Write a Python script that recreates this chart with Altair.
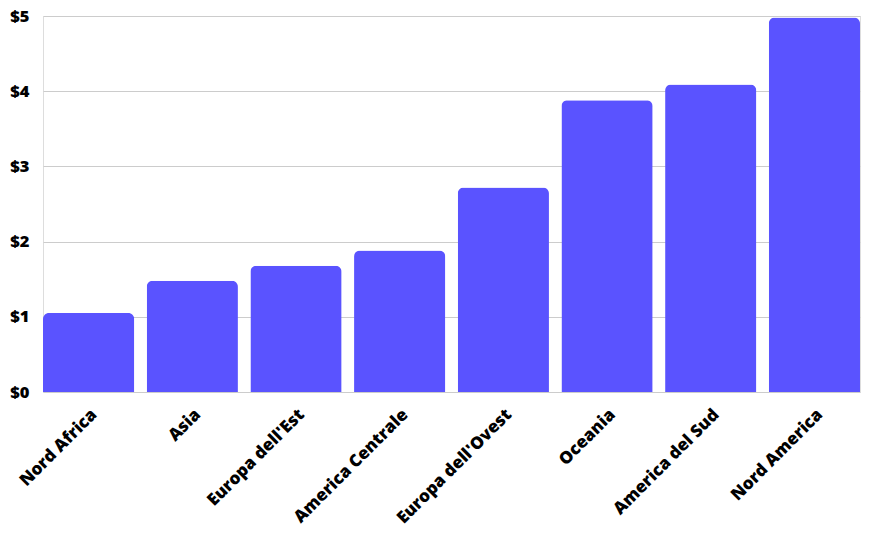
import altair as alt
import pandas as pd

regions = ["Nord Africa", "Asia", "Europa dell'Est", "America Centrale",
           "Europa dell'Ovest", "Oceania", "America del Sud", "Nord America"]
values = [1.05, 1.48, 1.68, 1.88, 2.72, 3.88, 4.09, 4.98]

df = pd.DataFrame({"region": regions, "value": values})

chart = alt.Chart(df).mark_bar(
    color="#5A53FF", cornerRadiusTopLeft=6, cornerRadiusTopRight=6
).encode(
    x=alt.X("region:N", sort=regions, title=None,
            scale=alt.Scale(paddingInner=0.12, paddingOuter=0),
            axis=alt.Axis(labelAngle=-45, labelAlign="right", labelBaseline="top",
                          labelFont="Open Sans", labelFontWeight=800, labelFontSize=17,
                          labelColor="#000", ticks=False, domain=False, labelPadding=14)),
    y=alt.Y("value:Q", title=None,
            scale=alt.Scale(domain=[0, 5], nice=False),
            axis=alt.Axis(values=[0, 1, 2, 3, 4, 5], format="$d",
                          labelFont="Open Sans", labelFontWeight=800, labelFontSize=16.5,
                          labelColor="#000", ticks=False, domain=False, labelPadding=14,
                          gridColor="#cccccc", gridWidth=1)),
).properties(
    width=817, height=376,
    autosize=alt.AutoSizeParams(type="none"),
    padding={"left": 35, "top": 8, "right": 2, "bottom": 146},
).configure_view(stroke=None).configure(background="white")

chart.save("out.html", embed_options={"renderer": "svg", "actions": False})
